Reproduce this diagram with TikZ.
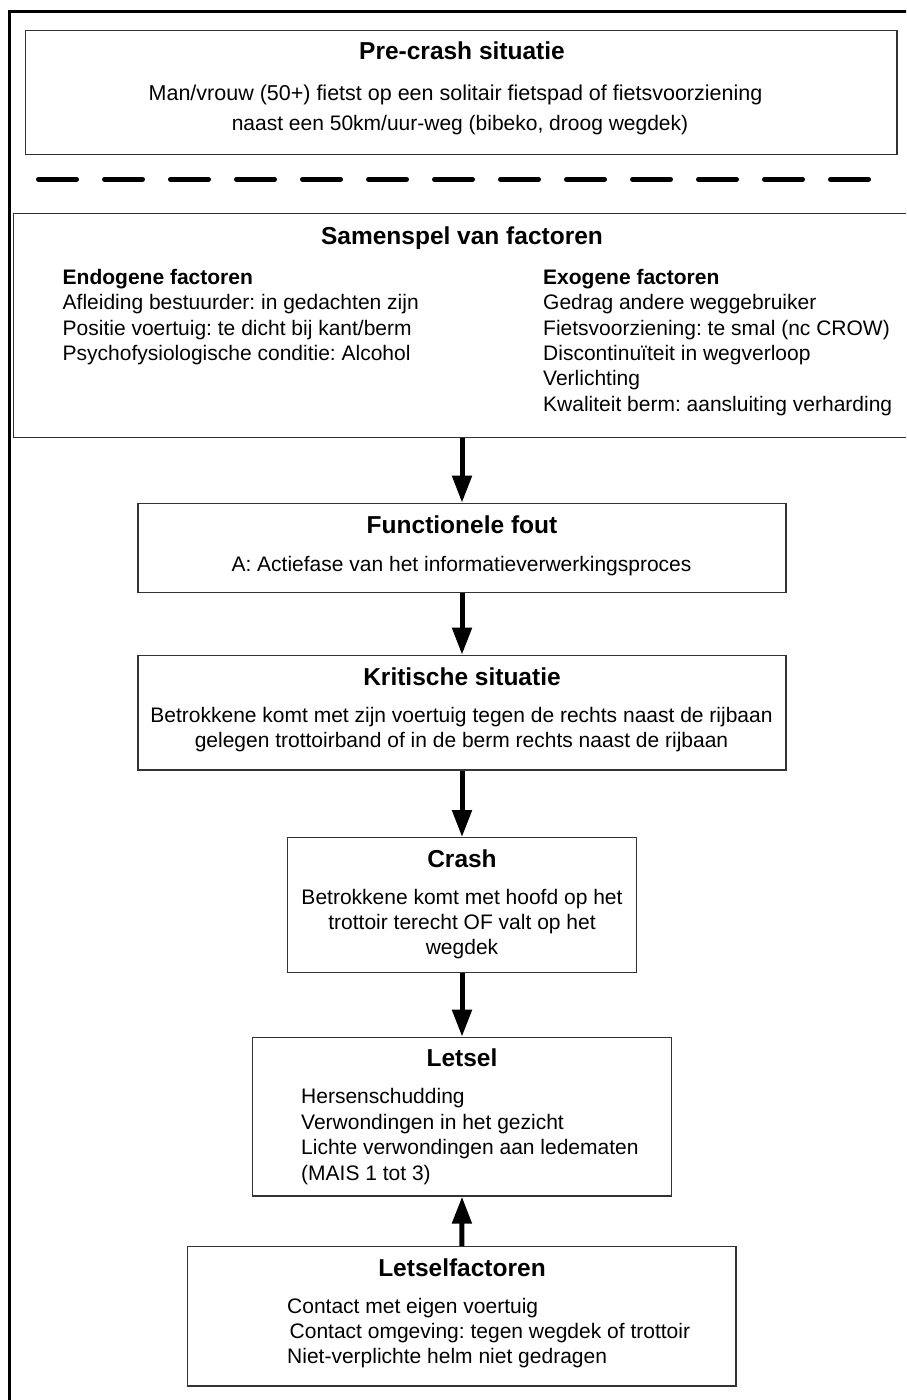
\documentclass[tikz,border=0pt]{standalone}
\usepackage{fontspec}
\setmainfont{Liberation Sans}
\usetikzlibrary{arrows.meta}
\frenchspacing
\begin{document}
\begin{tikzpicture}[x=1pt,y=-1pt,
  box/.style={draw=black!80,line width=1.3pt,rectangle,inner sep=0pt},
  ttl/.style={anchor=base,inner sep=0pt,font=\fontsize{24.5}{28}\selectfont\bfseries},
  hdr/.style={anchor=base west,inner sep=0pt,font=\fontsize{21}{25}\selectfont\bfseries},
  txt/.style={anchor=base,inner sep=0pt,font=\fontsize{21}{25}\selectfont},
  ltxt/.style={txt,anchor=base west},
  flow/.style={line width=5pt,-{Triangle[length=27pt,width=19pt]}},
  road/.style={line width=5pt,line cap=round,dash pattern=on 38pt off 28pt}]

% page area
\useasboundingbox (0,0) rectangle (906,1400);
\clip (0,0) rectangle (906,1400);

% outer frame (runs off the right and bottom edges)
\draw[line width=2.7pt] (9.3,11.2) rectangle (930,1420);

% pre-crash situation
\node[box,minimum width=871.2pt,minimum height=124.1pt] (pre) at (461.4,92.25) {};
\node[ttl] (preT) at (462,59.5) {Pre-crash situatie};
\node[txt,font=\fontsize{21.5}{25}\selectfont] (preL1) at (455.5,100) {Man/vrouw (50+) fietst op een solitair fietspad of fietsvoorziening};
\node[txt] (preL2) at (460,130) {naast een 50km/uur-weg (bibeko, droog wegdek)};

% road marking
\draw[road] (38.5,179.3) -- (868.5,179.3);

% interaction of factors
\node[box,minimum width=916.5pt,minimum height=224pt] (samen) at (471.75,325.3) {};
\node[ttl] (samenT) at (462,244) {Samenspel van factoren};
\node[hdr] (endoH) at (62.5,284) {Endogene factoren};
\node[ltxt] (endo1) at (62.5,309.7) {Afleiding bestuurder: in gedachten zijn};
\node[ltxt] (endo2) at (62.5,335.1) {Positie voertuig: te dicht bij kant/berm};
\node[ltxt] (endo3) at (62.5,360.5) {Psychofysiologische conditie: Alcohol};
\node[hdr] (exoH) at (543,284) {Exogene factoren};
\node[ltxt] (exo1) at (543,309.7) {Gedrag andere weggebruiker};
\node[ltxt] (exo2) at (543,335.1) {Fietsvoorziening: te smal (nc CROW)};
\node[ltxt] (exo3) at (543,360.5) {Discontinuïteit in wegverloop};
\node[ltxt] (exo4) at (543,385.9) {Verlichting};
\node[ltxt] (exo5) at (543,411.3) {Kwaliteit berm: aansluiting verharding};

% functional error
\node[box,minimum width=648pt,minimum height=89.4pt] (func) at (462,548) {};
\node[ttl] (funcT) at (462,533.3) {Functionele fout};
\node[txt] (funcL) at (461.5,571) {A: Actiefase van het informatieverwerkingsproces};

% critical situation
\node[box,minimum width=648pt,minimum height=114.7pt] (krit) at (462,712.65) {};
\node[ttl] (kritT) at (462,685) {Kritische situatie};
\node[txt] (kritL1) at (461.5,722) {Betrokkene komt met zijn voertuig tegen de rechts naast de rijbaan};
\node[txt] (kritL2) at (461.5,747) {gelegen trottoirband of in de berm rechts naast de rijbaan};

% crash
\node[box,minimum width=349.4pt,minimum height=134.6pt] (crash) at (462,905) {};
\node[ttl] (crashT) at (462,867) {Crash};
\node[txt] (crashL1) at (462,904) {Betrokkene komt met hoofd op het};
\node[txt] (crashL2) at (462,929.3) {trottoir terecht OF valt op het};
\node[txt] (crashL3) at (462,954.3) {wegdek};

% injury
\node[box,minimum width=419.4pt,minimum height=158.7pt] (letsel) at (462,1116.65) {};
\node[ttl] (letselT) at (462,1066.7) {Letsel};
\node[ltxt] (letsel1) at (301,1103) {Hersenschudding};
\node[ltxt] (letsel2) at (301,1129) {Verwondingen in het gezicht};
\node[ltxt] (letsel3) at (301,1154.5) {Lichte verwondingen aan ledematen};
\node[ltxt] (letsel4) at (301,1180) {(MAIS 1 tot 3)};

% injury factors
\node[box,minimum width=548.3pt,minimum height=139.3pt] (lf) at (461.85,1316.35) {};
\node[ttl] (lfT) at (462,1276) {Letselfactoren};
\node[ltxt] (lf1) at (287,1313.5) {Contact met eigen voertuig};
\node[ltxt] (lf2) at (289.5,1338.5) {Contact omgeving: tegen wegdek of trottoir};
\node[ltxt] (lf3) at (287,1363.5) {Niet-verplichte helm niet gedragen};

% flow
\draw[flow] (func.north |- samen.south) -- (func.north);
\draw[flow] (func.south) -- (krit.north);
\draw[flow] (krit.south) -- (crash.north);
\draw[flow] (crash.south) -- (letsel.north);
\draw[flow] (lf.north) -- (letsel.south);
\end{tikzpicture}
\end{document}
